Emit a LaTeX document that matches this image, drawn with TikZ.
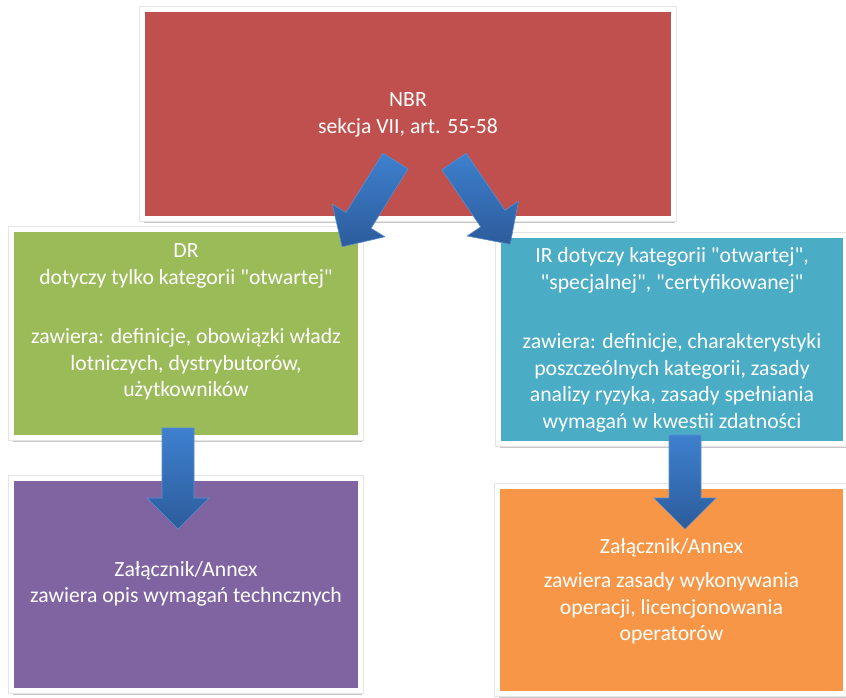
\documentclass[tikz,border=0pt]{standalone}
\usepackage{fontspec}
\setmainfont{Carlito}[Ligatures=TeXOff]
\usetikzlibrary{shadows}
\definecolor{cred}{HTML}{C0504D}
\definecolor{cgreen}{HTML}{9BBB59}
\definecolor{cblue}{HTML}{4BACC6}
\definecolor{cpurple}{HTML}{8064A2}
\definecolor{corange}{HTML}{F79646}
\definecolor{arrlight}{HTML}{3E80CE}
\definecolor{arrdark}{HTML}{2C5C9C}
\definecolor{arredge}{HTML}{5A8ED0}
\newcommand\blockarrow[4]{%
  \begin{scope}[shift={(#1)}, rotate=#2]
    \path[barrow] (-#4,0) -- (#4,0) -- (#4,#3-31) -- (31,#3-31) -- (0,#3)
      -- (-31,#3-31) -- (-#4,#3-31) -- cycle;
  \end{scope}}
\begin{document}
\begin{tikzpicture}[x=1pt,y=-1pt,
  box/.style={rectangle, inner sep=0pt, draw=white, line width=5pt,
    drop shadow={shadow xshift=1.5pt, shadow yshift=-4pt, fill=black, opacity=0.22},
    preaction={draw=black!10, line width=6.2pt}},
  txt/.style={text=white, align=center, font=\fontsize{21.7}{26.5}\selectfont, inner sep=0pt},
  barrow/.style={top color=arrlight, bottom color=arrdark, draw=arredge, line width=0.6pt, line join=miter}
]
\useasboundingbox (0,0) rectangle (846,697);

\node[box, fill=cred, minimum width=531pt, minimum height=209pt] (nbr) at (408,114) {};
\node[box, fill=cgreen, minimum width=349pt, minimum height=208pt] (dr) at (186,333.5) {};
\node[box, fill=cblue, minimum width=347pt, minimum height=208pt] (ir) at (672,339.5) {};
\node[box, fill=cpurple, minimum width=349pt, minimum height=212pt] (anxl) at (186,584.5) {};
\node[box, fill=corange, minimum width=348pt, minimum height=207pt] (anxr) at (671.5,590) {};

\node[txt] (nbrt) at (408,115) {NBR\\sekcja VII, art. 55-58};
\node[txt] (drt) at (186,322) {DR\\dotyczy tylko kategorii "otwartej"\\[33pt]zawiera: definicje, obowiązki władz\\lotniczych, dystrybutorów,\\użytkowników};
\node[txt] (irt) at (672,340) {IR dotyczy kategorii "otwartej",\\"specjalnej", "certyfikowanej"\\[33pt]zawiera: definicje, charakterystyki\\poszczeólnych kategorii, zasady\\analizy ryzyka, zasady spełniania\\wymagań w kwestii zdatności};
\node[txt] (anxlt) at (186,584) {Załącznik/Annex\\zawiera opis wymagań techncznych};
\node[txt] (anxrt) at (671.5,591) {Załącznik/Annex\\[8pt]zawiera zasady wykonywania\\operacji, licencjonowania\\operatorów};

\coordinate (t1) at (395.5,161);
\coordinate (t2) at (454,161.5);
\coordinate (t3) at (178,428);
\coordinate (t4) at (685,435);

\blockarrow{t1}{-31.9}{101}{14.8}
\blockarrow{t2}{34.2}{100}{14.7}
\blockarrow{t3}{0}{101}{16}
\blockarrow{t4}{0}{94}{16}
\end{tikzpicture}
\end{document}
